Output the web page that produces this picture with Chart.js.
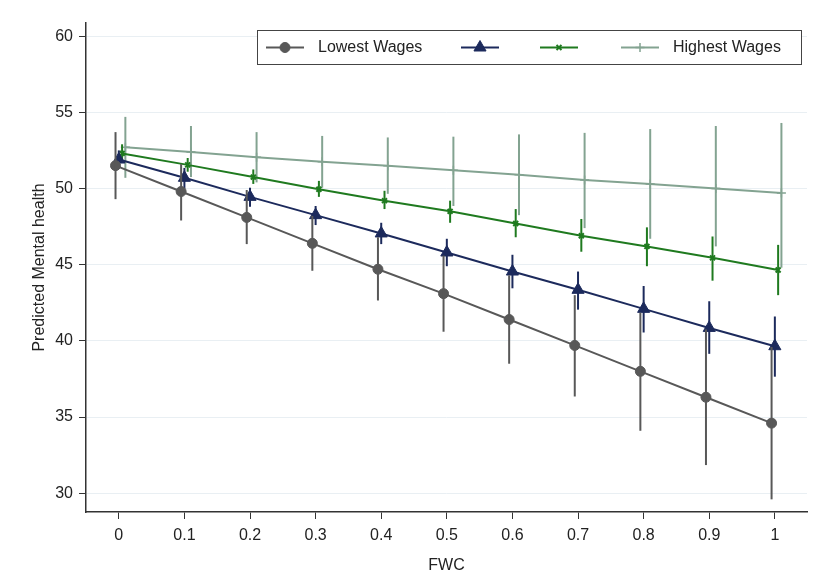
<!DOCTYPE html>
<html>
<head>
<meta charset="utf-8">
<script src="https://cdn.jsdelivr.net/npm/chart.js@4.4.1/dist/chart.umd.min.js"></script>
<style>
  html, body { margin: 0; padding: 0; background: #fff; }
  #wrap { width: 815px; height: 578px; }
</style>
</head>
<body>
<div id="wrap"><canvas id="grafico" width="815" height="578"></canvas></div>
<script>
const fwc = [0, 0.1, 0.2, 0.3, 0.4, 0.5, 0.6, 0.7, 0.8, 0.9, 1];
const xTicks = [0, 0.1, 0.2, 0.3, 0.4, 0.5, 0.6, 0.7, 0.8, 0.9, 1];
const yTicks = [30, 35, 40, 45, 50, 55, 60];

const nombres = ["Lowest Wages", "", "", "Highest Wages"];

const salarioBajo = [51.5, 49.8, 48.1, 46.4, 44.7, 43.1, 41.4, 39.7, 38.0, 36.3, 34.6];
const salarioBajoMin = [49.3, 47.9, 46.35, 44.6, 42.65, 40.6, 38.5, 36.35, 34.1, 31.85, 29.6];
const salarioBajoMax = [53.7, 51.6, 49.9, 48.2, 46.8, 45.6, 44.3, 43.0, 41.85, 40.75, 39.6];

const salarioMedioBajo = [51.9, 50.7, 49.45, 48.25, 47.05, 45.8, 44.55, 43.35, 42.1, 40.85, 39.65];
const salarioMedioBajoMin = [51.3, 50.0, 48.8, 47.6, 46.35, 44.9, 43.45, 42.05, 40.55, 39.15, 37.65];
const salarioMedioBajoMax = [52.5, 51.35, 50.05, 48.85, 47.75, 46.7, 45.65, 44.55, 43.6, 42.6, 41.6];

const salarioMedioAlto = [52.3, 51.55, 50.75, 49.95, 49.2, 48.5, 47.7, 46.9, 46.2, 45.45, 44.65];
const salarioMedioAltoMin = [51.7, 51.1, 50.3, 49.45, 48.65, 47.75, 46.8, 45.85, 44.9, 43.95, 43.0];
const salarioMedioAltoMax = [52.9, 52.0, 51.25, 50.5, 49.85, 49.2, 48.65, 48.0, 47.45, 46.85, 46.3];

const salarioAlto = [52.7, 52.4, 52.05, 51.75, 51.5, 51.2, 50.9, 50.55, 50.3, 50.0, 49.7];
const salarioAltoMin = [50.7, 50.75, 50.4, 50.05, 49.65, 48.85, 48.25, 47.4, 46.7, 46.2, 44.8];
const salarioAltoMax = [54.7, 54.1, 53.7, 53.45, 53.35, 53.4, 53.55, 53.65, 53.9, 54.1, 54.3];

const series = [
  { media: salarioBajo, min: salarioBajoMin, max: salarioBajoMax },
  { media: salarioMedioBajo, min: salarioMedioBajoMin, max: salarioMedioBajoMax },
  { media: salarioMedioAlto, min: salarioMedioAltoMin, max: salarioMedioAltoMax },
  { media: salarioAlto, min: salarioAltoMin, max: salarioAltoMax }
];

// estilos por serie (desplazamiento horizontal tipo Stata)
const estilos = [
  { color: "#585858", marcador: "circle", radio: 5, grosor: 1, desplaza: -0.005 },
  { color: "#1c2a5c", marcador: "triangle", radio: 7, grosor: 1, desplaza: 0 },
  { color: "#1f7a1f", marcador: "crossRot", radio: 3.5, grosor: 2, desplaza: 0.005 },
  { color: "#83a391", marcador: "cross", radio: 4.5, grosor: 1.5, desplaza: 0.01 }
];

// inicio de cada icono de la leyenda
const leyendaX = [266, 461, 540, 621];

const fuente = "'Liberation Sans', Arial, sans-serif";

const datasets = series.map((serie, i) => ({
  label: nombres[i],
  data: fwc.map((x, j) => ({ x: x + estilos[i].desplaza, y: serie.media[j], lo: serie.min[j], hi: serie.max[j] })),
  borderColor: estilos[i].color,
  backgroundColor: estilos[i].color,
  pointStyle: estilos[i].marcador,
  pointRadius: estilos[i].radio,
  pointBorderWidth: estilos[i].grosor,
  pointBorderColor: estilos[i].color,
  pointBackgroundColor: estilos[i].color,
  borderWidth: 2,
  showLine: true,
  tension: 0,
  order: i
}));

const barrasError = {
  id: "barrasError",
  afterDatasetDraw(chart, args) {
    const meta = args.meta;
    const y = chart.scales.y;
    const ctx = chart.ctx;
    const ds = chart.data.datasets[args.index];
    ctx.save();
    ctx.strokeStyle = ds.borderColor;
    ctx.lineWidth = 2;
    ds.data.forEach((p, j) => {
      const px = meta.data[j].x;
      ctx.beginPath();
      ctx.moveTo(px, y.getPixelForValue(p.lo));
      ctx.lineTo(px, y.getPixelForValue(p.hi));
      ctx.stroke();
    });
    ctx.restore();
  }
};

const leyenda = {
  id: "leyenda",
  afterDraw(chart) {
    const ctx = chart.ctx;
    const caja = { x: 257, y: 30, w: 544, h: 34 };
    ctx.save();
    ctx.fillStyle = "#fff";
    ctx.fillRect(caja.x, caja.y, caja.w, caja.h);
    ctx.strokeStyle = "#444";
    ctx.lineWidth = 1;
    ctx.strokeRect(caja.x + 0.5, caja.y + 0.5, caja.w, caja.h);
    ctx.font = "16px " + fuente;
    ctx.textBaseline = "middle";
    const cy = caja.y + caja.h / 2 + 0.5;
    nombres.forEach((nombre, i) => {
      const est = estilos[i];
      const x0 = leyendaX[i];
      ctx.strokeStyle = est.color;
      ctx.fillStyle = est.color;
      ctx.lineWidth = 2;
      ctx.beginPath();
      ctx.moveTo(x0, cy);
      ctx.lineTo(x0 + 38, cy);
      ctx.stroke();
      ctx.lineWidth = est.grosor;
      Chart.helpers.drawPoint(ctx, { pointStyle: est.marcador, radius: est.radio, borderWidth: est.grosor }, x0 + 19, cy);
      if (nombre) {
        ctx.fillStyle = "#222";
        ctx.fillText(nombre, x0 + 52, cy);
      }
    });
    ctx.restore();
  }
};

new Chart(document.getElementById("grafico").getContext("2d"), {
  type: "scatter",
  data: { datasets },
  options: {
    responsive: false,
    animation: false,
    layout: { padding: { left: 0, right: 7, top: 23, bottom: 0 } },
    plugins: {
      legend: { display: false },
      tooltip: { enabled: false }
    },
    scales: {
      x: {
        type: "linear",
        min: -0.05,
        max: 1.049,
        afterBuildTicks: (scale) => { scale.ticks = xTicks.map((v) => ({ value: v })); },
        afterFit: (scale) => { scale.height = 66; },
        ticks: {
          color: "#222",
          font: { family: fuente, size: 16 },
          padding: 7,
          maxRotation: 0,
          autoSkip: false,
          callback: (v) => String(v)
        },
        grid: { drawOnChartArea: false, drawTicks: true, tickLength: 7, tickColor: "#333", tickWidth: 1 },
        border: { display: true, color: "#333", width: 1.5 },
        title: { display: true, text: "FWC", color: "#222", font: { family: fuente, size: 16 }, padding: { top: 0, bottom: 2.6 } }
      },
      y: {
        type: "linear",
        min: 28.77,
        max: 60.86,
        afterBuildTicks: (scale) => { scale.ticks = yTicks.map((v) => ({ value: v })); },
        afterFit: (scale) => { scale.width = 86; },
        ticks: {
          color: "#222",
          font: { family: fuente, size: 16 },
          padding: 6,
          callback: (v) => String(v)
        },
        grid: { color: "#e9eff3", lineWidth: 1, drawTicks: true, tickLength: 7, tickColor: "#333" },
        border: { display: true, color: "#333", width: 1.5 },
        title: { display: true, text: "Predicted Mental health", color: "#222", font: { family: fuente, size: 16 }, padding: { top: 30, bottom: 0 } }
      }
    }
  },
  plugins: [barrasError, leyenda]
});
</script>
</body>
</html>
